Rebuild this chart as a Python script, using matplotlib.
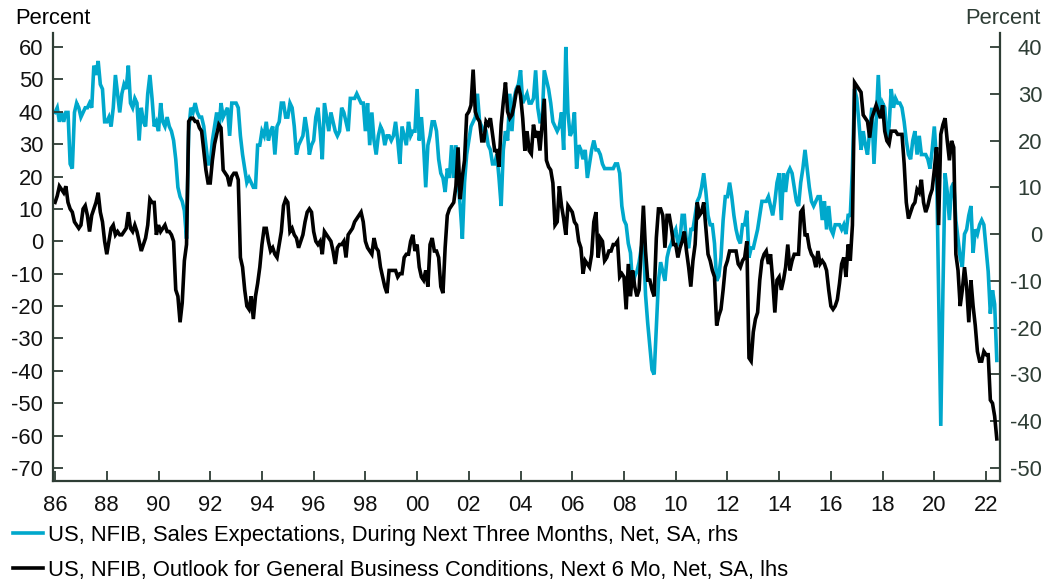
import numpy as np
import pandas as pd
import matplotlib
matplotlib.use("Agg")
import matplotlib.pyplot as plt

plt.rcParams['font.family'] = ['Liberation Sans', 'DejaVu Sans']
plt.rcParams['axes.unicode_minus'] = False

# ---------------- data (monthly, Jan 1986 - Jun 2022) ----------------
start_month = "1986-01"

# US, NFIB, Outlook for General Business Conditions, Next 6 Mo, Net, SA (lhs)
outlook_lhs = [
    12, 14, 17, 16, 15, 17, 12, 10, 9, 6, 5, 4,            # 1986
    5, 10, 11, 8, 3, 8, 10, 12, 15, 9, 6, 0,               # 1987
    -4, 0, 4, 5, 2, 3, 2, 2, 3, 4, 9, 4,                   # 1988
    3, 5, 3, 0, -3, -1, 1, 5, 13, 12, 12, 2,               # 1989
    5, 3, 4, 5, 3, 3, 2, 0, -15, -17, -25, -19,            # 1990
    -6, -1, 37, 38, 38, 37, 37, 35, 34, 28, 22, 18,        # 1991
    18, 25, 30, 33, 36, 35, 22, 21, 20, 17, 20, 21,        # 1992
    21, 19, -5, -8, -15, -20, -21, -17, -24, -17, -13, -8, # 1993
    -1, 4, 4, 0, -3, -2, -4, -5, -1, 3, 11, 13,            # 1994
    12, 3, 4, 2, 1, -2, 0, 2, 6, 9, 10, 9,                 # 1995
    3, 0, -1, 0, -4, 3, 2, 1, 0, -3, -7, -2,               # 1996
    -1, -1, 0, -5, 2, 3, 4, 6, 7, 8, 9, 6,                 # 1997
    0, -2, -3, -4, 1, -2, -3, -8, -11, -14, -16, -9,       # 1998
    -9, -9, -9, -11, -10, -10, -5, -4, -4, 0, 2, -3,       # 1999
    -1, -8, -11, -12, -9, -14, -1, 1, -3, -3, -5, -14,     # 2000
    -16, -2, 8, 10, 11, 12, 17, 29, 13, 20, 25, 39,        # 2001
    40, 42, 53, 40, 38, 37, 31, 31, 37, 36, 38, 33,        # 2002
    28, 28, 23, 36, 43, 49, 40, 38, 39, 42, 46, 48,        # 2003
    45, 38, 28, 34, 28, 27, 36, 32, 34, 28, 36, 44,        # 2004
    25, 23, 22, 18, 5, 6, 17, 11, 7, 2, 11, 10,            # 2005
    9, 6, 5, 0, -2, -10, -6, -7, -8, -4, 6, 9,             # 2006
    -5, 1, 0, -6, -5, -3, -3, -1, -1, 0, -11, -10,         # 2007
    -11, -21, -7, -17, -9, -14, -17, -15, -2, 11, -3, -12, # 2008
    -12, -15, -17, 1, 10, 10, 8, -2, 8, 8, 4, -1,          # 2009
    -1, -5, -2, 0, 3, -3, -8, -14, -6, -1, 12, 8,          # 2010
    9, 12, 4, -4, -6, -9, -11, -26, -23, -21, -15, -8,     # 2011
    -6, -3, -3, -3, -3, -7, -8, -6, -5, 0, -36, -37,       # 2012
    -28, -24, -22, -12, -6, -4, -3, -7, -4, -12, -22, -12, # 2013
    -11, -15, -12, -8, -1, -9, -6, -4, -4, -4, 9, 10,      # 2014
    2, 2, -2, -4, -5, -8, -3, -7, -6, -7, -9, -15,         # 2015
    -20, -21, -20, -18, -13, -7, -5, -11, -1, -6, 5, 49,   # 2016
    48, 47, 46, 39, 38, 37, 32, 38, 40, 42, 40, 38,        # 2017
    42, 34, 31, 30, 34, 34, 34, 33, 33, 33, 24, 12,        # 2018
    7, 9, 11, 12, 16, 15, 19, 12, 9, 11, 14, 16,           # 2019
    22, 29, 5, 33, 36, 38, 31, 25, 31, 29, -4, -9,         # 2020
    -20, -15, -8, -14, -25, -12, -20, -26, -34, -37, -37, -34,  # 2021
    -35, -35, -49, -50, -54, -61,                          # 2022
]

# US, NFIB, Sales Expectations, During Next Three Months, Net, SA (rhs)
sales_rhs = [
    26, 27, 24, 26, 24, 26, 26, 15, 14, 26, 28, 27,        # 1986
    25, 26, 27, 27, 28, 27, 36, 34, 37, 32, 31, 24,        # 1987
    24, 25, 23, 27, 34, 30, 26, 30, 32, 31, 36, 28,        # 1988
    27, 29, 28, 20, 27, 24, 23, 30, 34, 29, 23, 24,        # 1989
    22, 28, 24, 23, 25, 23, 22, 20, 16, 10, 8, 7,          # 1990
    5, -1, 22, 27, 26, 28, 26, 25, 25, 23, 19, 15,         # 1991
    15, 20, 23, 26, 22, 28, 25, 26, 27, 21, 28, 28,        # 1992
    28, 27, 21, 17, 14, 11, 12, 11, 10, 10, 19, 19,        # 1993
    22, 21, 24, 20, 22, 23, 17, 23, 24, 28, 28, 25,        # 1994
    25, 28, 27, 23, 17, 19, 20, 21, 25, 22, 17, 19,        # 1995
    20, 25, 27, 22, 16, 28, 25, 22, 26, 24, 22, 21,        # 1996
    22, 27, 26, 24, 22, 29, 29, 29, 30, 29, 28, 28,        # 1997
    22, 28, 19, 26, 20, 17, 21, 23, 22, 19, 21, 21,        # 1998
    20, 21, 24, 20, 15, 23, 21, 19, 24, 21, 22, 22,        # 1999
    31, 20, 25, 19, 10, 19, 21, 24, 24, 22, 16, 13,        # 2000
    12, 9, 14, 12, 19, 12, 19, 11, 6, -1, 11, 17,          # 2001
    20, 23, 24, 25, 30, 24, 23, 22, 22, 19, 18, 15,        # 2002
    15, 17, 12, 6, 18, 22, 20, 30, 22, 29, 31, 32,         # 2003
    35, 28, 29, 30, 28, 28, 29, 35, 27, 24, 24, 35,        # 2004
    33, 31, 28, 24, 23, 22, 23, 26, 18, 40, 26, 21,        # 2005
    22, 26, 14, 19, 18, 16, 18, 12, 15, 18, 20, 18,        # 2006
    18, 17, 15, 14, 14, 14, 14, 14, 15, 15, 13, 6,         # 2007
    3, 2, -2, -4, -11, -9, -8, -6, -3, -1, -13, -19,       # 2008
    -24, -29, -30, -20, -10, -6, -8, -10, -5, -3, -2, 0,   # 2009
    1, -2, -1, 4, 4, -2, -3, 1, 1, 4, 7, 8,                # 2010
    10, 13, 9, 4, 2, 2, -2, -10, -9, -5, 3, 8,             # 2011
    8, 11, 8, 4, 1, -1, -2, 2, 2, 5, -5, -3,               # 2012
    -3, -1, 1, 4, 7, 7, 7, 8, 6, 4, 7, 11,                 # 2013
    13, 3, 13, 9, 13, 14, 13, 10, 7, 6, 11, 14,            # 2014
    18, 14, 10, 7, 6, 7, 8, 8, 3, 7, 1, 6,                 # 2015
    1, 0, 2, 2, 2, 1, 2, 0, 4, 4, 14, 31,                  # 2016
    29, 24, 18, 22, 19, 17, 22, 27, 15, 24, 34, 25,        # 2017
    28, 27, 20, 23, 31, 27, 29, 28, 28, 27, 24, 20,        # 2018
    17, 16, 20, 22, 17, 21, 17, 17, 17, 16, 14, 18,        # 2019
    23, 16, -12, -41, -12, 13, 9, 3, 10, 11, 3, -1,        # 2020
    -5, -7, 0, 1, 4, 6, -4, 1, 0, 2, 3, 2,                 # 2021
    -3, -8, -17, -12, -15, -27,                            # 2022
]

label_sales = "US, NFIB, Sales Expectations, During Next Three Months, Net, SA, rhs"
label_outlook = "US, NFIB, Outlook for General Business Conditions, Next 6 Mo, Net, SA, lhs"

x_tick_years = [1986, 1988, 1990, 1992, 1994, 1996, 1998, 2000, 2002, 2004,
                2006, 2008, 2010, 2012, 2014, 2016, 2018, 2020, 2022]
x_tick_labels = ['86', '88', '90', '92', '94', '96', '98', '00', '02', '04',
                 '06', '08', '10', '12', '14', '16', '18', '20', '22']
left_ticks = [-70, -60, -50, -40, -30, -20, -10, 0, 10, 20, 30, 40, 50, 60]
right_ticks = [-50, -40, -30, -20, -10, 0, 10, 20, 30, 40]

# ---------------- styling ----------------
CYAN = '#00A8CC'
BLACK = '#000000'
SPINE = '#2E3D35'
RTEXT = '#2E3D35'
FS = 15.8

dates = pd.period_range(start_month, periods=len(outlook_lhs), freq='M')
t = dates.year + (dates.month - 1) / 12.0
assert len(outlook_lhs) == len(sales_rhs)

fig = plt.figure(figsize=(10.55, 5.82), dpi=100)
W, H = 1055.0, 582.0
ax = fig.add_axes([53 / W, 1 - 481 / H, (1000 - 53) / W, (481 - 33) / H])
ax2 = ax.twinx()

# black above cyan
ax.set_zorder(ax2.get_zorder() + 1)
ax.patch.set_visible(False)

l_sales, = ax2.plot(t, sales_rhs, color=CYAN, lw=2.6, solid_joinstyle='miter')
l_out, = ax.plot(t, outlook_lhs, color=BLACK, lw=2.6, solid_joinstyle='miter')

ax.set_xlim(1985.92, 2022.54)
ax.set_ylim(-74.0, 64.3)
ax2.set_ylim(40 + (-74.0 - 60) * 90 / 130, 40 + (64.3 - 60) * 90 / 130)

ax.set_xticks(x_tick_years)
ax.set_xticklabels(x_tick_labels)
ax.set_yticks(left_ticks)
ax.set_yticklabels([str(v) for v in left_ticks])
ax2.set_yticks(right_ticks)
ax2.set_yticklabels([str(v) for v in right_ticks])

for s in ['top', 'right']:
    ax.spines[s].set_visible(False)
for s in ['top', 'left', 'bottom']:
    ax2.spines[s].set_visible(False)
for s in ['left', 'bottom']:
    ax.spines[s].set_color(SPINE)
    ax.spines[s].set_linewidth(1.6)
ax2.spines['right'].set_color(SPINE)
ax2.spines['right'].set_linewidth(1.6)

ax.tick_params(axis='x', direction='in', length=7.5, width=1.3, color=SPINE,
               pad=10, labelsize=FS, labelcolor='#111111')
ax.tick_params(axis='y', direction='in', length=7.5, width=1.3, color=SPINE,
               pad=7, labelsize=FS, labelcolor='#111111')
ax2.tick_params(axis='y', direction='in', length=7.5, width=1.3, color=SPINE,
                pad=30.5, labelsize=FS, labelcolor=RTEXT)
for lbl in ax2.get_yticklabels():
    lbl.set_horizontalalignment('right')

fig.text(15 / W, 1 - 18 / H, "Percent", fontsize=FS, color='#000000',
         ha='left', va='center')
fig.text(1041 / W, 1 - 18 / H, "Percent", fontsize=FS, color=RTEXT,
         ha='right', va='center')

fig.legend(handles=[l_sales, l_out], labels=[label_sales, label_outlook],
           loc='upper left', bbox_to_anchor=(13 / W, 1 - 525 / H),
           frameon=False, fontsize=FS, handlelength=1.38, handletextpad=0.2,
           borderpad=0, borderaxespad=0, labelspacing=0.62)

fig.savefig("out.png", dpi=100, facecolor='white')
